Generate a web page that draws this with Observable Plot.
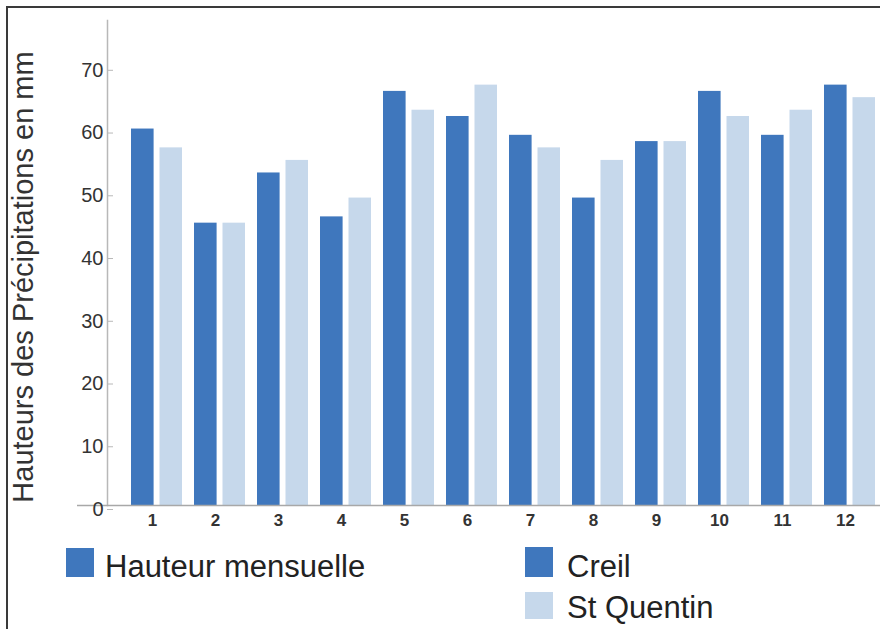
<!DOCTYPE html>
<html>
<head>
<meta charset="utf-8">
<script src="https://cdn.jsdelivr.net/npm/d3@7"></script>
<script src="https://cdn.jsdelivr.net/npm/@observablehq/plot@0.6"></script>
<style>
  html, body { margin: 0; padding: 0; background: #fff; }
  #page { position: relative; width: 880px; height: 629px; overflow: hidden; background: #fff;
          font-family: "Liberation Sans", Arial, sans-serif; color: #222; }
  #border { position: absolute; left: 6px; top: 6px; width: 920px; height: 680px;
            border-left: 2px solid #3a3a3a; border-top: 2px solid #3a3a3a; }
  #chart { position: absolute; left: 0; top: 0; }
  .sw { position: absolute; width: 28px; }
  .lt { position: absolute; font-size: 31px; line-height: 30px; white-space: nowrap; color: #222; }
</style>
</head>
<body>
<div id="page">
  <div id="border"></div>
  <div id="chart"></div>
  <div id="legend"></div>
</div>
<script>
// Monthly precipitation heights (mm) for two stations
const months = [1, 2, 3, 4, 5, 6, 7, 8, 9, 10, 11, 12];
const creil = [60, 45, 53, 46, 66, 62, 59, 49, 58, 66, 59, 67];
const stQuentin = [57, 45, 55, 49, 63, 67, 57, 55, 58, 62, 63, 65];
const yTicks = [0, 10, 20, 30, 40, 50, 60, 70];
const yTitle = "Hauteurs des Précipitations en mm";
const legendTitle = "Hauteur mensuelle";
const seriesNames = ["Creil", "St Quentin"];
const colors = ["#3f77bd", "#c6d8eb"];

const rows = months.map((m, i) => ({month: m, creil: creil[i], stq: stQuentin[i]}));

const chart = Plot.plot({
  width: 880,
  height: 540,
  marginLeft: 107,
  marginRight: 0,
  marginTop: 20,
  marginBottom: 35,
  style: {fontFamily: "'Liberation Sans', Arial, sans-serif", color: "#222", background: "transparent"},
  x: {type: "band", domain: months, range: [119, 886], padding: 0, axis: null},
  y: {domain: [0, 77.3], axis: null},
  marks: [
    Plot.frame({anchor: "left", stroke: "#b8b8b8", strokeWidth: 1.5}),
    Plot.barY(rows, {x: "month", y: "creil", fill: colors[0], insetLeft: 6, insetRight: 34.4}),
    Plot.barY(rows, {x: "month", y: "stq", fill: colors[1], insetLeft: 34.5, insetRight: 6}),
    Plot.ruleY([0], {stroke: "#a8a8a8", strokeWidth: 1.5, insetLeft: -30}),
    Plot.axisY({ticks: yTicks, tickSize: -6, tickPadding: 10, fontSize: 20, dy: 4,
                stroke: "#b8b8b8", label: null, fill: "#333"}),
    Plot.axisX({tickSize: 0, tickPadding: 8, fontSize: 17, fontWeight: "bold", dx: -4.5,
                label: null, fill: "#333"}),
    Plot.text([yTitle], {frameAnchor: "left", textAnchor: "middle", rotate: -90, dx: -84, dy: 14,
                         fontSize: 29, fill: "#333"})
  ]
});
document.getElementById("chart").appendChild(chart);

// Legend below the chart
const legend = document.getElementById("legend");
const items = [
  {label: legendTitle, color: colors[0], sx: 66, sy: 548, sh: 29, tx: 105, ty: 552},
  {label: seriesNames[0], color: colors[0], sx: 525, sy: 547, sh: 30, tx: 567, ty: 552},
  {label: seriesNames[1], color: colors[1], sx: 525, sy: 592, sh: 27, tx: 567, ty: 593}
];
for (const it of items) {
  const sw = document.createElement("div");
  sw.className = "sw";
  sw.style.left = it.sx + "px";
  sw.style.top = it.sy + "px";
  sw.style.height = it.sh + "px";
  sw.style.background = it.color;
  legend.appendChild(sw);
  const t = document.createElement("div");
  t.className = "lt";
  t.style.left = it.tx + "px";
  t.style.top = it.ty + "px";
  t.textContent = it.label;
  legend.appendChild(t);
}
</script>
</body>
</html>
